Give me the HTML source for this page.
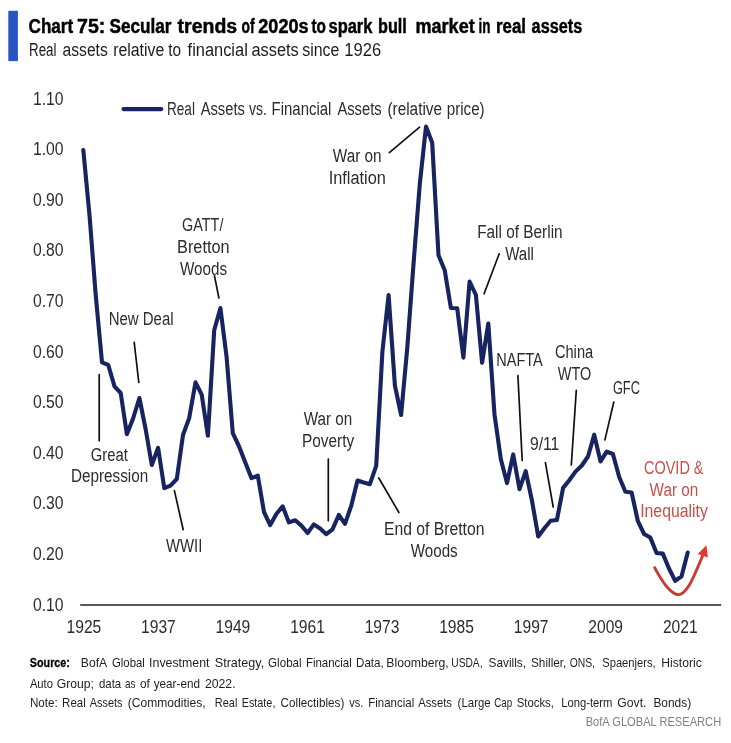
<!DOCTYPE html>
<html><head><meta charset="utf-8"><title>Chart 75</title>
<style>
html,body{margin:0;padding:0;background:#fff;}
svg{display:block;font-family:"Liberation Sans",sans-serif;}
</style></head><body>
<svg width="731" height="743" viewBox="0 0 731 743">
<rect x="0" y="0" width="731" height="743" fill="#ffffff"/>
<rect x="8.3" y="10.8" width="9.6" height="50.3" fill="#2855c2"/>
<text x="28.6" y="32.6" font-size="19.4" text-anchor="start" fill="#000" font-weight="bold" textLength="44.6" lengthAdjust="spacingAndGlyphs" stroke="#000" stroke-width="0.45">Chart</text>
<text x="77.0" y="32.6" font-size="19.4" text-anchor="start" fill="#000" font-weight="bold" textLength="28.3" lengthAdjust="spacingAndGlyphs" stroke="#000" stroke-width="0.45">75:</text>
<text x="109.5" y="32.6" font-size="19.4" text-anchor="start" fill="#000" font-weight="bold" textLength="62.0" lengthAdjust="spacingAndGlyphs" stroke="#000" stroke-width="0.45">Secular</text>
<text x="177.6" y="32.6" font-size="19.4" text-anchor="start" fill="#000" font-weight="bold" textLength="59.6" lengthAdjust="spacingAndGlyphs" stroke="#000" stroke-width="0.45">trends</text>
<text x="241.5" y="32.6" font-size="19.4" text-anchor="start" fill="#000" font-weight="bold" textLength="13.0" lengthAdjust="spacingAndGlyphs" stroke="#000" stroke-width="0.45">of</text>
<text x="258.3" y="32.6" font-size="19.4" text-anchor="start" fill="#000" font-weight="bold" textLength="50.2" lengthAdjust="spacingAndGlyphs" stroke="#000" stroke-width="0.45">2020s</text>
<text x="311.5" y="32.6" font-size="19.4" text-anchor="start" fill="#000" font-weight="bold" textLength="14.5" lengthAdjust="spacingAndGlyphs" stroke="#000" stroke-width="0.45">to</text>
<text x="328.5" y="32.6" font-size="19.4" text-anchor="start" fill="#000" font-weight="bold" textLength="43.9" lengthAdjust="spacingAndGlyphs" stroke="#000" stroke-width="0.45">spark</text>
<text x="378.1" y="32.6" font-size="19.4" text-anchor="start" fill="#000" font-weight="bold" textLength="28.7" lengthAdjust="spacingAndGlyphs" stroke="#000" stroke-width="0.45">bull</text>
<text x="415.5" y="32.6" font-size="19.4" text-anchor="start" fill="#000" font-weight="bold" textLength="59.2" lengthAdjust="spacingAndGlyphs" stroke="#000" stroke-width="0.45">market</text>
<text x="478.5" y="32.6" font-size="19.4" text-anchor="start" fill="#000" font-weight="bold" textLength="12.0" lengthAdjust="spacingAndGlyphs" stroke="#000" stroke-width="0.45">in</text>
<text x="496.0" y="32.6" font-size="19.4" text-anchor="start" fill="#000" font-weight="bold" textLength="30.0" lengthAdjust="spacingAndGlyphs" stroke="#000" stroke-width="0.45">real</text>
<text x="531.6" y="32.6" font-size="19.4" text-anchor="start" fill="#000" font-weight="bold" textLength="50.6" lengthAdjust="spacingAndGlyphs" stroke="#000" stroke-width="0.45">assets</text>
<text x="29.0" y="56.1" font-size="17.6" text-anchor="start" fill="#1c1c1c" font-weight="normal" textLength="27.5" lengthAdjust="spacingAndGlyphs">Real</text>
<text x="62.5" y="56.1" font-size="17.6" text-anchor="start" fill="#1c1c1c" font-weight="normal" textLength="45.3" lengthAdjust="spacingAndGlyphs">assets</text>
<text x="113.2" y="56.1" font-size="17.6" text-anchor="start" fill="#1c1c1c" font-weight="normal" textLength="51.0" lengthAdjust="spacingAndGlyphs">relative</text>
<text x="168.2" y="56.1" font-size="17.6" text-anchor="start" fill="#1c1c1c" font-weight="normal" textLength="12.8" lengthAdjust="spacingAndGlyphs">to</text>
<text x="187.6" y="56.1" font-size="17.6" text-anchor="start" fill="#1c1c1c" font-weight="normal" textLength="60.2" lengthAdjust="spacingAndGlyphs">financial</text>
<text x="251.5" y="56.1" font-size="17.6" text-anchor="start" fill="#1c1c1c" font-weight="normal" textLength="47.3" lengthAdjust="spacingAndGlyphs">assets</text>
<text x="302.2" y="56.1" font-size="17.6" text-anchor="start" fill="#1c1c1c" font-weight="normal" textLength="37.2" lengthAdjust="spacingAndGlyphs">since</text>
<text x="344.3" y="56.1" font-size="17.6" text-anchor="start" fill="#1c1c1c" font-weight="normal" textLength="36.8" lengthAdjust="spacingAndGlyphs">1926</text>
<text x="33.0" y="104.7" font-size="17.6" text-anchor="start" fill="#2c2c2c" font-weight="normal" textLength="30.6" lengthAdjust="spacingAndGlyphs">1.10</text>
<text x="33.0" y="155.3" font-size="17.6" text-anchor="start" fill="#2c2c2c" font-weight="normal" textLength="30.6" lengthAdjust="spacingAndGlyphs">1.00</text>
<text x="33.0" y="205.9" font-size="17.6" text-anchor="start" fill="#2c2c2c" font-weight="normal" textLength="30.6" lengthAdjust="spacingAndGlyphs">0.90</text>
<text x="33.0" y="256.4" font-size="17.6" text-anchor="start" fill="#2c2c2c" font-weight="normal" textLength="30.6" lengthAdjust="spacingAndGlyphs">0.80</text>
<text x="33.0" y="307.0" font-size="17.6" text-anchor="start" fill="#2c2c2c" font-weight="normal" textLength="30.6" lengthAdjust="spacingAndGlyphs">0.70</text>
<text x="33.0" y="357.6" font-size="17.6" text-anchor="start" fill="#2c2c2c" font-weight="normal" textLength="30.6" lengthAdjust="spacingAndGlyphs">0.60</text>
<text x="33.0" y="408.2" font-size="17.6" text-anchor="start" fill="#2c2c2c" font-weight="normal" textLength="30.6" lengthAdjust="spacingAndGlyphs">0.50</text>
<text x="33.0" y="458.8" font-size="17.6" text-anchor="start" fill="#2c2c2c" font-weight="normal" textLength="30.6" lengthAdjust="spacingAndGlyphs">0.40</text>
<text x="33.0" y="509.3" font-size="17.6" text-anchor="start" fill="#2c2c2c" font-weight="normal" textLength="30.6" lengthAdjust="spacingAndGlyphs">0.30</text>
<text x="33.0" y="559.9" font-size="17.6" text-anchor="start" fill="#2c2c2c" font-weight="normal" textLength="30.6" lengthAdjust="spacingAndGlyphs">0.20</text>
<text x="33.0" y="610.5" font-size="17.6" text-anchor="start" fill="#2c2c2c" font-weight="normal" textLength="30.6" lengthAdjust="spacingAndGlyphs">0.10</text>
<text x="66.6" y="633.2" font-size="17.6" text-anchor="start" fill="#2c2c2c" font-weight="normal" textLength="34.7" lengthAdjust="spacingAndGlyphs">1925</text>
<text x="141.1" y="633.2" font-size="17.6" text-anchor="start" fill="#2c2c2c" font-weight="normal" textLength="34.7" lengthAdjust="spacingAndGlyphs">1937</text>
<text x="215.6" y="633.2" font-size="17.6" text-anchor="start" fill="#2c2c2c" font-weight="normal" textLength="34.7" lengthAdjust="spacingAndGlyphs">1949</text>
<text x="290.2" y="633.2" font-size="17.6" text-anchor="start" fill="#2c2c2c" font-weight="normal" textLength="34.7" lengthAdjust="spacingAndGlyphs">1961</text>
<text x="364.7" y="633.2" font-size="17.6" text-anchor="start" fill="#2c2c2c" font-weight="normal" textLength="34.7" lengthAdjust="spacingAndGlyphs">1973</text>
<text x="439.2" y="633.2" font-size="17.6" text-anchor="start" fill="#2c2c2c" font-weight="normal" textLength="34.7" lengthAdjust="spacingAndGlyphs">1985</text>
<text x="513.8" y="633.2" font-size="17.6" text-anchor="start" fill="#2c2c2c" font-weight="normal" textLength="34.7" lengthAdjust="spacingAndGlyphs">1997</text>
<text x="588.3" y="633.2" font-size="17.6" text-anchor="start" fill="#2c2c2c" font-weight="normal" textLength="34.7" lengthAdjust="spacingAndGlyphs">2009</text>
<text x="662.9" y="633.2" font-size="17.6" text-anchor="start" fill="#2c2c2c" font-weight="normal" textLength="34.7" lengthAdjust="spacingAndGlyphs">2021</text>
<line x1="80.2" y1="605" x2="721.2" y2="605" stroke="#222" stroke-width="1.3"/>
<line x1="123.5" y1="109.1" x2="161.3" y2="109.1" stroke="#17245f" stroke-width="4.1" stroke-linecap="round"/>
<text x="167.0" y="114.5" font-size="17.6" text-anchor="start" fill="#2c2c2c" font-weight="normal" textLength="27.9" lengthAdjust="spacingAndGlyphs">Real</text>
<text x="200.7" y="114.5" font-size="17.6" text-anchor="start" fill="#2c2c2c" font-weight="normal" textLength="44.2" lengthAdjust="spacingAndGlyphs">Assets</text>
<text x="249.1" y="114.5" font-size="17.6" text-anchor="start" fill="#2c2c2c" font-weight="normal" textLength="17.9" lengthAdjust="spacingAndGlyphs">vs.</text>
<text x="271.6" y="114.5" font-size="17.6" text-anchor="start" fill="#2c2c2c" font-weight="normal" textLength="59.8" lengthAdjust="spacingAndGlyphs">Financial</text>
<text x="337.4" y="114.5" font-size="17.6" text-anchor="start" fill="#2c2c2c" font-weight="normal" textLength="44.2" lengthAdjust="spacingAndGlyphs">Assets</text>
<text x="387.4" y="114.5" font-size="17.6" text-anchor="start" fill="#2c2c2c" font-weight="normal" textLength="54.7" lengthAdjust="spacingAndGlyphs">(relative</text>
<text x="446.7" y="114.5" font-size="17.6" text-anchor="start" fill="#2c2c2c" font-weight="normal" textLength="38.0" lengthAdjust="spacingAndGlyphs">price)</text>
<line x1="99.2" y1="374.5" x2="99.2" y2="440.7" stroke="#111" stroke-width="1.7" stroke-linecap="round"/>
<line x1="134.2" y1="342.4" x2="138.8" y2="382.5" stroke="#111" stroke-width="1.7" stroke-linecap="round"/>
<line x1="174.4" y1="490.6" x2="183.2" y2="529.7" stroke="#111" stroke-width="1.7" stroke-linecap="round"/>
<line x1="214.5" y1="275.8" x2="218.9" y2="298" stroke="#111" stroke-width="1.7" stroke-linecap="round"/>
<line x1="328.3" y1="459.1" x2="328.3" y2="520.7" stroke="#111" stroke-width="1.7" stroke-linecap="round"/>
<line x1="378.8" y1="478" x2="398.9" y2="512.5" stroke="#111" stroke-width="1.7" stroke-linecap="round"/>
<line x1="389.3" y1="152.6" x2="419.6" y2="127.2" stroke="#111" stroke-width="1.7" stroke-linecap="round"/>
<line x1="499.2" y1="253.8" x2="484.1" y2="293.8" stroke="#111" stroke-width="1.7" stroke-linecap="round"/>
<line x1="517.9" y1="375.5" x2="522.2" y2="460.5" stroke="#111" stroke-width="1.7" stroke-linecap="round"/>
<line x1="545.4" y1="462.6" x2="553.2" y2="507" stroke="#111" stroke-width="1.7" stroke-linecap="round"/>
<line x1="576.3" y1="390.4" x2="571.3" y2="465" stroke="#111" stroke-width="1.7" stroke-linecap="round"/>
<line x1="613.8" y1="402" x2="604.9" y2="439.9" stroke="#111" stroke-width="1.7" stroke-linecap="round"/>
<text x="108.7" y="325.0" font-size="17.6" text-anchor="start" fill="#2c2c2c" font-weight="normal" textLength="64.9" lengthAdjust="spacingAndGlyphs">New Deal</text>
<text x="90.7" y="460.5" font-size="17.6" text-anchor="start" fill="#2c2c2c" font-weight="normal" textLength="37.2" lengthAdjust="spacingAndGlyphs">Great</text>
<text x="71.0" y="482.4" font-size="17.6" text-anchor="start" fill="#2c2c2c" font-weight="normal" textLength="77.2" lengthAdjust="spacingAndGlyphs">Depression</text>
<text x="166.0" y="551.6" font-size="17.6" text-anchor="start" fill="#2c2c2c" font-weight="normal" textLength="36.4" lengthAdjust="spacingAndGlyphs">WWII</text>
<text x="182.0" y="230.8" font-size="17.6" text-anchor="start" fill="#2c2c2c" font-weight="normal" textLength="41.4" lengthAdjust="spacingAndGlyphs">GATT/</text>
<text x="177.1" y="252.9" font-size="17.6" text-anchor="start" fill="#2c2c2c" font-weight="normal" textLength="52.4" lengthAdjust="spacingAndGlyphs">Bretton</text>
<text x="180.0" y="274.6" font-size="17.6" text-anchor="start" fill="#2c2c2c" font-weight="normal" textLength="47.1" lengthAdjust="spacingAndGlyphs">Woods</text>
<text x="303.7" y="425.1" font-size="17.6" text-anchor="start" fill="#2c2c2c" font-weight="normal" textLength="48.5" lengthAdjust="spacingAndGlyphs">War on</text>
<text x="302.0" y="446.8" font-size="17.6" text-anchor="start" fill="#2c2c2c" font-weight="normal" textLength="52.2" lengthAdjust="spacingAndGlyphs">Poverty</text>
<text x="332.8" y="161.5" font-size="17.6" text-anchor="start" fill="#2c2c2c" font-weight="normal" textLength="48.8" lengthAdjust="spacingAndGlyphs">War on</text>
<text x="328.7" y="183.7" font-size="17.6" text-anchor="start" fill="#2c2c2c" font-weight="normal" textLength="57.2" lengthAdjust="spacingAndGlyphs">Inflation</text>
<text x="383.9" y="535.1" font-size="17.6" text-anchor="start" fill="#2c2c2c" font-weight="normal" textLength="100.6" lengthAdjust="spacingAndGlyphs">End of Bretton</text>
<text x="410.8" y="556.6" font-size="17.6" text-anchor="start" fill="#2c2c2c" font-weight="normal" textLength="46.9" lengthAdjust="spacingAndGlyphs">Woods</text>
<text x="477.2" y="237.9" font-size="17.6" text-anchor="start" fill="#2c2c2c" font-weight="normal" textLength="85.4" lengthAdjust="spacingAndGlyphs">Fall of Berlin</text>
<text x="505.2" y="259.8" font-size="17.6" text-anchor="start" fill="#2c2c2c" font-weight="normal" textLength="28.7" lengthAdjust="spacingAndGlyphs">Wall</text>
<text x="496.3" y="366.4" font-size="17.6" text-anchor="start" fill="#2c2c2c" font-weight="normal" textLength="46.5" lengthAdjust="spacingAndGlyphs">NAFTA</text>
<text x="529.9" y="450.3" font-size="17.6" text-anchor="start" fill="#2c2c2c" font-weight="normal" textLength="29.4" lengthAdjust="spacingAndGlyphs">9/11</text>
<text x="554.9" y="357.8" font-size="17.6" text-anchor="start" fill="#2c2c2c" font-weight="normal" textLength="38.3" lengthAdjust="spacingAndGlyphs">China</text>
<text x="557.8" y="380.0" font-size="17.6" text-anchor="start" fill="#2c2c2c" font-weight="normal" textLength="33.5" lengthAdjust="spacingAndGlyphs">WTO</text>
<text x="612.9" y="394.2" font-size="17.6" text-anchor="start" fill="#2c2c2c" font-weight="normal" textLength="27.0" lengthAdjust="spacingAndGlyphs">GFC</text>
<text x="644.0" y="473.9" font-size="17.6" text-anchor="start" fill="#c84f46" font-weight="normal" textLength="59.5" lengthAdjust="spacingAndGlyphs">COVID &amp;</text>
<text x="649.6" y="495.9" font-size="17.6" text-anchor="start" fill="#c84f46" font-weight="normal" textLength="48.6" lengthAdjust="spacingAndGlyphs">War on</text>
<text x="640.2" y="517.4" font-size="17.6" text-anchor="start" fill="#c84f46" font-weight="normal" textLength="67.6" lengthAdjust="spacingAndGlyphs">Inequality</text>
<path d="M654.1,566.6 C659,576 663,582 667,587.1 C671,591.5 674.5,594.8 678.1,594.8 C682,594.8 686,590.5 689.2,585.3 C693,579 698,567 703.1,554.5" fill="none" stroke="#ca3a31" stroke-width="2.9" stroke-linecap="butt"/>
<polygon points="706.4,545.2 697.8,553.9 707.9,557.6" fill="#e2382d"/>
<polyline points="83.3,150.0 89.5,215.0 95.8,296.0 102.0,362.3 108.2,364.8 114.5,386.4 120.7,393.0 126.9,434.3 133.1,418.5 139.4,398.0 145.6,429.0 151.8,465.0 158.1,447.8 164.3,488.2 170.5,485.7 176.8,479.0 183.0,435.0 189.2,418.0 195.5,382.3 201.7,394.6 207.9,435.8 214.2,330.3 220.4,308.0 226.6,357.0 232.8,433.2 239.1,446.5 245.3,462.4 251.5,478.2 257.8,475.6 264.0,512.0 270.2,525.1 276.5,513.8 282.7,506.4 288.9,522.4 295.2,520.2 301.4,525.6 307.6,533.0 313.8,524.4 320.1,528.5 326.3,534.2 332.5,529.3 338.8,515.0 345.0,523.9 351.2,505.9 357.5,480.5 363.7,482.5 369.9,484.2 376.2,465.8 382.4,351.6 388.6,295.0 394.9,385.5 401.1,415.0 407.3,347.5 413.5,264.0 419.8,184.0 426.0,126.5 432.2,142.8 438.5,255.3 444.7,270.2 450.9,308.0 457.2,308.3 463.4,357.6 469.6,281.5 475.9,295.0 482.1,362.8 488.3,323.5 494.5,414.5 500.8,459.0 507.0,483.1 513.2,454.4 519.5,489.2 525.7,471.2 531.9,500.2 538.2,536.4 544.4,528.2 550.6,520.7 556.9,520.0 563.1,487.9 569.3,480.2 575.5,471.6 581.8,465.5 588.0,456.5 594.2,434.7 600.5,461.4 606.7,451.7 612.9,454.0 619.2,477.0 625.4,491.8 631.6,492.5 637.9,521.2 644.1,534.0 650.3,537.6 656.6,553.0 662.8,553.6 669.0,568.5 675.2,580.8 681.5,576.4 687.7,552.6" fill="none" stroke="#17245f" stroke-width="4.1" stroke-linejoin="round" stroke-linecap="round"/>
<text x="29.8" y="667.3" font-size="13.5" text-anchor="start" fill="#000" font-weight="bold" textLength="40.1" lengthAdjust="spacingAndGlyphs" stroke="#000" stroke-width="0.3">Source:</text>
<text x="80.8" y="667.3" font-size="13.5" text-anchor="start" fill="#1e1e1e" font-weight="normal" textLength="26.3" lengthAdjust="spacingAndGlyphs">BofA</text>
<text x="112.0" y="667.3" font-size="13.5" text-anchor="start" fill="#1e1e1e" font-weight="normal" textLength="32.8" lengthAdjust="spacingAndGlyphs">Global</text>
<text x="149.1" y="667.3" font-size="13.5" text-anchor="start" fill="#1e1e1e" font-weight="normal" textLength="60.4" lengthAdjust="spacingAndGlyphs">Investment</text>
<text x="214.8" y="667.3" font-size="13.5" text-anchor="start" fill="#1e1e1e" font-weight="normal" textLength="49.4" lengthAdjust="spacingAndGlyphs">Strategy,</text>
<text x="268.1" y="667.3" font-size="13.5" text-anchor="start" fill="#1e1e1e" font-weight="normal" textLength="33.5" lengthAdjust="spacingAndGlyphs">Global</text>
<text x="305.9" y="667.3" font-size="13.5" text-anchor="start" fill="#1e1e1e" font-weight="normal" textLength="45.9" lengthAdjust="spacingAndGlyphs">Financial</text>
<text x="356.1" y="667.3" font-size="13.5" text-anchor="start" fill="#1e1e1e" font-weight="normal" textLength="27.6" lengthAdjust="spacingAndGlyphs">Data,</text>
<text x="386.3" y="667.3" font-size="13.5" text-anchor="start" fill="#1e1e1e" font-weight="normal" textLength="62.4" lengthAdjust="spacingAndGlyphs">Bloomberg,</text>
<text x="451.3" y="667.3" font-size="13.5" text-anchor="start" fill="#1e1e1e" font-weight="normal" textLength="31.2" lengthAdjust="spacingAndGlyphs">USDA,</text>
<text x="488.5" y="667.3" font-size="13.5" text-anchor="start" fill="#1e1e1e" font-weight="normal" textLength="37.5" lengthAdjust="spacingAndGlyphs">Savills,</text>
<text x="531.0" y="667.3" font-size="13.5" text-anchor="start" fill="#1e1e1e" font-weight="normal" textLength="35.4" lengthAdjust="spacingAndGlyphs">Shiller,</text>
<text x="569.7" y="667.3" font-size="13.5" text-anchor="start" fill="#1e1e1e" font-weight="normal" textLength="25.3" lengthAdjust="spacingAndGlyphs">ONS,</text>
<text x="602.2" y="667.3" font-size="13.5" text-anchor="start" fill="#1e1e1e" font-weight="normal" textLength="53.5" lengthAdjust="spacingAndGlyphs">Spaenjers,</text>
<text x="661.3" y="667.3" font-size="13.5" text-anchor="start" fill="#1e1e1e" font-weight="normal" textLength="40.4" lengthAdjust="spacingAndGlyphs">Historic</text>
<text x="29.9" y="687.7" font-size="13.5" text-anchor="start" fill="#1e1e1e" font-weight="normal" textLength="23.0" lengthAdjust="spacingAndGlyphs">Auto</text>
<text x="56.8" y="687.7" font-size="13.5" text-anchor="start" fill="#1e1e1e" font-weight="normal" textLength="37.1" lengthAdjust="spacingAndGlyphs">Group;</text>
<text x="98.9" y="687.7" font-size="13.5" text-anchor="start" fill="#1e1e1e" font-weight="normal" textLength="22.3" lengthAdjust="spacingAndGlyphs">data</text>
<text x="125.1" y="687.7" font-size="13.5" text-anchor="start" fill="#1e1e1e" font-weight="normal" textLength="10.5" lengthAdjust="spacingAndGlyphs">as</text>
<text x="139.9" y="687.7" font-size="13.5" text-anchor="start" fill="#1e1e1e" font-weight="normal" textLength="9.9" lengthAdjust="spacingAndGlyphs">of</text>
<text x="153.7" y="687.7" font-size="13.5" text-anchor="start" fill="#1e1e1e" font-weight="normal" textLength="46.3" lengthAdjust="spacingAndGlyphs">year-end</text>
<text x="204.9" y="687.7" font-size="13.5" text-anchor="start" fill="#1e1e1e" font-weight="normal" textLength="30.7" lengthAdjust="spacingAndGlyphs">2022.</text>
<text x="29.9" y="707.3" font-size="13.5" text-anchor="start" fill="#1e1e1e" font-weight="normal" textLength="27.9" lengthAdjust="spacingAndGlyphs">Note:</text>
<text x="62.1" y="707.3" font-size="13.5" text-anchor="start" fill="#1e1e1e" font-weight="normal" textLength="23.6" lengthAdjust="spacingAndGlyphs">Real</text>
<text x="89.7" y="707.3" font-size="13.5" text-anchor="start" fill="#1e1e1e" font-weight="normal" textLength="32.8" lengthAdjust="spacingAndGlyphs">Assets</text>
<text x="127.8" y="707.3" font-size="13.5" text-anchor="start" fill="#1e1e1e" font-weight="normal" textLength="77.8" lengthAdjust="spacingAndGlyphs">(Commodities,</text>
<text x="214.8" y="707.3" font-size="13.5" text-anchor="start" fill="#1e1e1e" font-weight="normal" textLength="22.6" lengthAdjust="spacingAndGlyphs">Real</text>
<text x="241.7" y="707.3" font-size="13.5" text-anchor="start" fill="#1e1e1e" font-weight="normal" textLength="33.7" lengthAdjust="spacingAndGlyphs">Estate,</text>
<text x="280.6" y="707.3" font-size="13.5" text-anchor="start" fill="#1e1e1e" font-weight="normal" textLength="63.7" lengthAdjust="spacingAndGlyphs">Collectibles)</text>
<text x="349.2" y="707.3" font-size="13.5" text-anchor="start" fill="#1e1e1e" font-weight="normal" textLength="14.1" lengthAdjust="spacingAndGlyphs">vs.</text>
<text x="368.3" y="707.3" font-size="13.5" text-anchor="start" fill="#1e1e1e" font-weight="normal" textLength="45.9" lengthAdjust="spacingAndGlyphs">Financial</text>
<text x="418.2" y="707.3" font-size="13.5" text-anchor="start" fill="#1e1e1e" font-weight="normal" textLength="33.8" lengthAdjust="spacingAndGlyphs">Assets</text>
<text x="457.6" y="707.3" font-size="13.5" text-anchor="start" fill="#1e1e1e" font-weight="normal" textLength="33.1" lengthAdjust="spacingAndGlyphs">(Large</text>
<text x="494.2" y="707.3" font-size="13.5" text-anchor="start" fill="#1e1e1e" font-weight="normal" textLength="18.0" lengthAdjust="spacingAndGlyphs">Cap</text>
<text x="516.8" y="707.3" font-size="13.5" text-anchor="start" fill="#1e1e1e" font-weight="normal" textLength="37.1" lengthAdjust="spacingAndGlyphs">Stocks,</text>
<text x="561.2" y="707.3" font-size="13.5" text-anchor="start" fill="#1e1e1e" font-weight="normal" textLength="51.2" lengthAdjust="spacingAndGlyphs">Long-term</text>
<text x="617.3" y="707.3" font-size="13.5" text-anchor="start" fill="#1e1e1e" font-weight="normal" textLength="29.2" lengthAdjust="spacingAndGlyphs">Govt.</text>
<text x="653.4" y="707.3" font-size="13.5" text-anchor="start" fill="#1e1e1e" font-weight="normal" textLength="37.8" lengthAdjust="spacingAndGlyphs">Bonds)</text>
<text x="585.7" y="726.0" font-size="13" text-anchor="start" fill="#808080" font-weight="normal" textLength="135.5" lengthAdjust="spacingAndGlyphs">BofA GLOBAL RESEARCH</text>
</svg>
</body></html>
